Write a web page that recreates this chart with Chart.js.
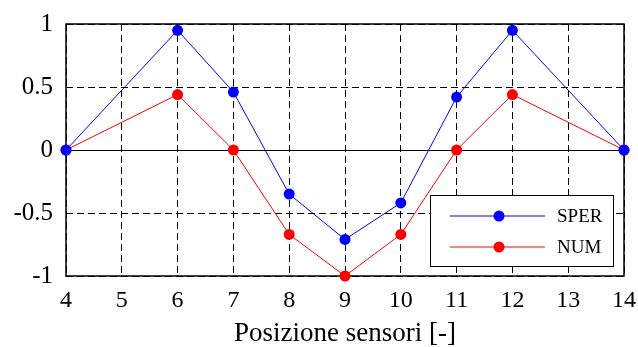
<!DOCTYPE html>
<html>
<head>
<meta charset="utf-8">
<script src="https://cdn.jsdelivr.net/npm/chart.js@4/dist/chart.umd.min.js"></script>
<style>
  html, body { margin: 0; padding: 0; background: #fff; }
  #wrap { width: 638px; height: 347px; }
</style>
</head>
<body>
<div id="wrap"><canvas id="chart"></canvas></div>
<script>
// sensor positions and measured / numerical values
const positions = [4, 6, 7, 8, 9, 10, 11, 12, 14];
const sperValues = [0, 0.95, 0.46, -0.35, -0.71, -0.42, 0.42, 0.95, 0];
const numValues = [0, 0.44, 0, -0.67, -1, -0.67, 0, 0.44, 0];
const xTicks = [4, 5, 6, 7, 8, 9, 10, 11, 12, 13, 14];
const yTicks = [-1, -0.5, 0, 0.5, 1];
const seriesNames = ['SPER', 'NUM'];
const seriesColors = ['#0000ff', '#ff0000'];

const FONT = 'Liberation Serif';
Chart.defaults.font.family = FONT;
Chart.defaults.color = '#000';

const toPoints = vals => positions.map((x, i) => ({ x: x, y: vals[i] }));

// box round the plot area, drawn under the points
const frame = {
    id: 'frame',
    beforeDatasetsDraw(chart) {
        const a = chart.chartArea;
        const ctx = chart.ctx;
        ctx.save();
        ctx.strokeStyle = '#000';
        ctx.lineWidth = 1.5;
        ctx.strokeRect(a.left, a.top, a.right - a.left, a.bottom - a.top);
        ctx.restore();
    }
};

// legend box in the lower right corner
const boxLegend = {
    id: 'boxLegend',
    afterDraw(chart) {
        const a = chart.chartArea;
        const ctx = chart.ctx;
        const w = 183, h = 71;
        const x0 = a.right - 11 - w;
        const y0 = a.bottom - 10 - h;
        ctx.save();
        ctx.fillStyle = '#fff';
        ctx.fillRect(x0, y0, w, h);
        ctx.strokeStyle = '#000';
        ctx.lineWidth = 1;
        ctx.strokeRect(x0 + 0.5, y0 + 0.5, w, h);
        ctx.font = '19px "' + FONT + '"';
        ctx.textBaseline = 'middle';
        seriesNames.forEach((name, i) => {
            const y = y0 + 21 + i * 31;
            ctx.strokeStyle = seriesColors[i];
            ctx.beginPath();
            ctx.moveTo(x0 + 20, y);
            ctx.lineTo(x0 + 115, y);
            ctx.stroke();
            ctx.fillStyle = seriesColors[i];
            ctx.beginPath();
            ctx.arc(x0 + 69, y, 5.5, 0, Math.PI * 2);
            ctx.fill();
            ctx.fillStyle = '#000';
            ctx.fillText(name, x0 + 127, y + 1);
        });
        ctx.restore();
    }
};

const ctx = document.getElementById('chart').getContext('2d');
new Chart(ctx, {
    type: 'scatter',
    data: {
        datasets: [
            {
                label: seriesNames[0],
                data: toPoints(sperValues),
                showLine: true,
                clip: false,
                borderColor: seriesColors[0],
                backgroundColor: seriesColors[0],
                borderWidth: 1,
                pointRadius: 5.5,
                pointBorderWidth: 0
            },
            {
                label: seriesNames[1],
                data: toPoints(numValues),
                showLine: true,
                clip: false,
                borderColor: seriesColors[1],
                backgroundColor: seriesColors[1],
                borderWidth: 1,
                pointRadius: 5.5,
                pointBorderWidth: 0
            }
        ]
    },
    options: {
        responsive: true,
        maintainAspectRatio: false,
        animation: false,
        layout: { padding: { top: 24, right: 14, left: 0, bottom: 0 } },
        plugins: {
            legend: { display: false },
            tooltip: { enabled: false }
        },
        scales: {
            x: {
                type: 'linear',
                min: 4,
                max: 14,
                afterBuildTicks: scale => { scale.ticks = xTicks.map(v => ({ value: v })); },
                afterFit: scale => {
                    scale.height = 71;
                    scale.paddingLeft = 0;
                    scale.paddingRight = 0;
                },
                grid: { color: '#000', lineWidth: 1, drawTicks: false },
                border: { display: false, dash: [7, 4] },
                ticks: {
                    color: '#000',
                    padding: 10,
                    maxRotation: 0,
                    font: { family: FONT, size: 24 }
                },
                title: {
                    display: true,
                    text: 'Posizione sensori [-]',
                    color: '#000',
                    padding: { top: 0, bottom: 0 },
                    font: { family: FONT, size: 27, lineHeight: 1 }
                }
            },
            y: {
                type: 'linear',
                min: -1,
                max: 1,
                afterBuildTicks: scale => { scale.ticks = yTicks.map(v => ({ value: v })); },
                afterFit: scale => {
                    scale.width = 66;
                    scale.paddingTop = 0;
                    scale.paddingBottom = 0;
                },
                grid: { color: '#000', lineWidth: 1, drawTicks: false },
                border: {
                    display: false,
                    dash: c => (c.tick && c.tick.value === 0 ? [] : [7, 4])
                },
                ticks: {
                    color: '#000',
                    padding: 13,
                    font: { family: FONT, size: 25 },
                    callback: v => String(v)
                }
            }
        }
    },
    plugins: [frame, boxLegend]
});
</script>
</body>
</html>
